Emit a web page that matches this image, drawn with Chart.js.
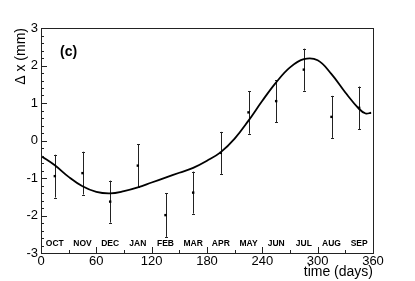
<!DOCTYPE html>
<html>
<head>
<meta charset="utf-8">
<script src="https://cdn.jsdelivr.net/npm/chart.js@4"></script>
<style>
  html, body { margin: 0; padding: 0; background: #fff; }
  canvas { display: block; }
</style>
</head>
<body>
<canvas id="myChart" width="415" height="281"></canvas>
<script>
// measured points, one per month (day of year starting 1 Oct)
const monthNames = ['OCT', 'NOV', 'DEC', 'JAN', 'FEB', 'MAR', 'APR', 'MAY', 'JUN', 'JUL', 'AUG', 'SEP'];
const monthDays = [15, 45, 75, 105, 135, 165, 195, 225, 255, 285, 315, 345];
const shiftVals = [-0.95, -0.87, -1.63, -0.67, -1.99, -1.39, -0.33, 0.75, 1.05, 1.89, 0.63, 0.87];
const shiftErrs = [0.57, 0.57, 0.56, 0.57, 0.58, 0.56, 0.56, 0.57, 0.56, 0.56, 0.56, 0.57];

// fitted curve
const fitDays = [0, 15, 30, 45, 60, 75, 90, 105, 120, 135, 150, 165, 180, 195, 210, 225, 240, 255, 270, 285, 300, 315, 330, 345, 352, 358];
const fitVals = [-0.41, -0.66, -0.97, -1.22, -1.37, -1.41, -1.35, -1.25, -1.12, -0.99, -0.86, -0.73, -0.54, -0.31, 0.05, 0.53, 1.06, 1.55, 1.95, 2.17, 2.14, 1.77, 1.28, 0.84, 0.72, 0.74];

// tick positions
const xTickVals = [0, 30, 60, 90, 120, 150, 180, 210, 240, 270, 300, 330, 360];
const yTickVals = [];
for (let i = -15; i <= 15; i++) yTickVals.push(i / 5);

const FONT = '"Liberation Sans", Arial, sans-serif';

const decorPlugin = {
  id: 'decor',
  beforeDatasetsDraw(chart) {
    const ctx = chart.ctx;
    const x = chart.scales.x, y = chart.scales.y;
    ctx.save();
    ctx.strokeStyle = '#222';
    ctx.lineWidth = 1;
    monthDays.forEach((d, i) => {
      const px = Math.round(x.getPixelForValue(d)) + 0.5;
      const top = y.getPixelForValue(shiftVals[i] + shiftErrs[i]);
      const bot = y.getPixelForValue(shiftVals[i] - shiftErrs[i]);
      ctx.beginPath();
      ctx.moveTo(px, top); ctx.lineTo(px, bot);
      ctx.moveTo(px - 1.5, Math.round(top) + 0.5); ctx.lineTo(px + 1.5, Math.round(top) + 0.5);
      ctx.moveTo(px - 1.5, Math.round(bot) + 0.5); ctx.lineTo(px + 1.5, Math.round(bot) + 0.5);
      ctx.stroke();
    });
    ctx.restore();
  },
  afterDraw(chart) {
    const ctx = chart.ctx;
    const a = chart.chartArea;
    const x = chart.scales.x, y = chart.scales.y;
    ctx.save();
    // frame
    ctx.strokeStyle = '#222';
    ctx.lineWidth = 1;
    ctx.strokeRect(Math.round(a.left) + 0.5, Math.round(a.top) + 0.5, Math.round(a.right - a.left), Math.round(a.bottom - a.top));
    // inward ticks
    ctx.beginPath();
    x.ticks.forEach(t => {
      const px = Math.round(x.getPixelForValue(t.value)) + 0.5;
      const len = t.value % 60 === 0 ? 6 : 3;
      ctx.moveTo(px, a.bottom); ctx.lineTo(px, a.bottom - len);
    });
    y.ticks.forEach(t => {
      const py = Math.round(y.getPixelForValue(t.value)) + 0.5;
      const len = Math.abs(t.value - Math.round(t.value)) < 1e-6 ? 6 : 3;
      ctx.moveTo(a.left, py); ctx.lineTo(a.left + len, py);
    });
    ctx.stroke();
    // month names
    ctx.fillStyle = '#000';
    ctx.font = 'bold 8.5px ' + FONT;
    ctx.textAlign = 'center';
    ctx.textBaseline = 'middle';
    monthNames.forEach((m, i) => {
      ctx.fillText(m, x.getPixelForValue(monthDays[i]), 244);
    });
    // panel label
    ctx.font = 'bold 14px ' + FONT;
    ctx.textAlign = 'left';
    ctx.fillText('(c)', 60, 52);
    // axis titles
    ctx.font = '14px ' + FONT;
    ctx.textAlign = 'right';
    ctx.fillText('time (days)', a.right, 272);
    ctx.translate(21, a.top);
    ctx.rotate(-Math.PI / 2);
    ctx.textAlign = 'right';
    ctx.fillText('\u0394 x (mm)', 0, 0);
    ctx.restore();
  }
};

new Chart('myChart', {
  type: 'scatter',
  data: {
    datasets: [{
      type: 'line',
      data: fitDays.map((d, i) => ({x: d, y: fitVals[i]})),
      borderColor: '#000',
      borderWidth: 1.8,
      pointRadius: 0,
      fill: false,
      tension: 0.4
    }, {
      data: monthDays.map((d, i) => ({x: d, y: shiftVals[i]})),
      backgroundColor: '#000',
      borderColor: '#000',
      pointStyle: 'rect',
      pointRadius: 1.7,
      borderWidth: 0
    }]
  },
  options: {
    responsive: false,
    animation: false,
    devicePixelRatio: 1,
    layout: {padding: {left: 0, right: 42, top: 28, bottom: 0}},
    plugins: {legend: {display: false}, tooltip: {enabled: false}},
    scales: {
      x: {
        type: 'linear', min: 0, max: 360,
        grid: {display: false, drawTicks: false},
        border: {display: false},
        afterBuildTicks: s => { s.ticks = xTickVals.map(v => ({value: v})); },
        afterFit: s => { s.height = 28; },
        ticks: {
          autoSkip: false, maxRotation: 0, padding: 1,
          color: '#000', font: {family: FONT, size: 13},
          callback: v => (v % 60 === 0 ? String(v) : '')
        }
      },
      y: {
        type: 'linear', min: -3, max: 3,
        grid: {display: false, drawTicks: false},
        border: {display: false},
        afterBuildTicks: s => { s.ticks = yTickVals.map(v => ({value: v})); },
        afterFit: s => { s.width = 41; },
        ticks: {
          autoSkip: false, padding: 3,
          color: '#000', font: {family: FONT, size: 13},
          callback: v => (Math.abs(v - Math.round(v)) < 1e-6 ? String(Math.round(v)) : '')
        }
      }
    }
  },
  plugins: [decorPlugin]
});
</script>
</body>
</html>
